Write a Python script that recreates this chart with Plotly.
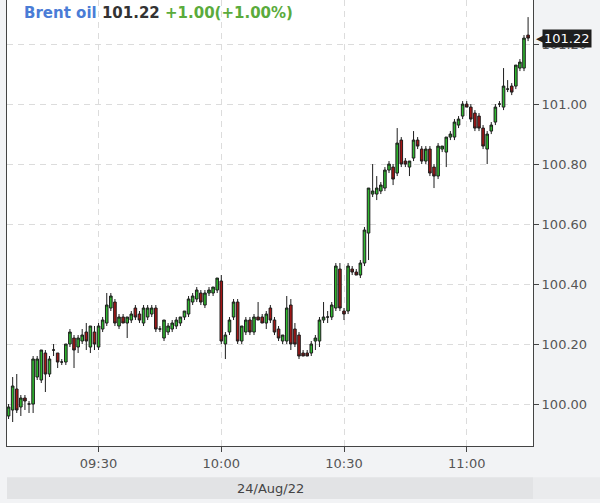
import pandas as pd
import plotly.graph_objects as go

# Brent oil, 1-minute candles, 24 Aug 2022 (09:08 - 11:15)
start_time = "2022-08-24 09:08"

opens = [
    99.96, 99.98, 100.05, 99.99, 100.02, 100.00, 100.00, 100.09, 100.08, 100.17,
    100.10, 100.18, 100.17, 100.14, 100.14, 100.20, 100.22, 100.19, 100.21, 100.24,
    100.19, 100.24, 100.19, 100.25, 100.27, 100.32, 100.34, 100.26, 100.29, 100.27,
    100.28, 100.32, 100.30, 100.27, 100.29, 100.30, 100.32, 100.25, 100.22, 100.24,
    100.25, 100.26, 100.27, 100.29, 100.30, 100.34, 100.35, 100.37, 100.33, 100.37,
    100.37, 100.38, 100.41, 100.20, 100.24, 100.29, 100.34, 100.21, 100.24, 100.28,
    100.24, 100.29, 100.29, 100.27, 100.32, 100.28, 100.25, 100.21, 100.21, 100.33,
    100.25, 100.23, 100.17, 100.17, 100.17, 100.21, 100.21, 100.28, 100.29, 100.29,
    100.32, 100.45, 100.31, 100.31, 100.45, 100.44, 100.43, 100.47, 100.57, 100.70,
    100.70, 100.71, 100.72, 100.78, 100.79, 100.77, 100.88, 100.81, 100.79, 100.82,
    100.88, 100.85, 100.81, 100.85, 100.79, 100.76, 100.85, 100.84, 100.89, 100.89,
    100.93, 100.96, 101.00, 100.99, 100.97, 100.96, 100.92, 100.85, 100.91, 100.94,
    101.00, 100.99, 101.05, 101.06, 101.06, 101.12, 101.12, 101.23,
]
highs = [
    100.00, 100.09, 100.10, 100.03, 100.03, 100.01, 100.16, 100.16, 100.18, 100.18,
    100.16, 100.20, 100.17, 100.15, 100.20, 100.25, 100.23, 100.23, 100.25, 100.27,
    100.26, 100.26, 100.27, 100.29, 100.37, 100.37, 100.35, 100.30, 100.30, 100.29,
    100.31, 100.33, 100.31, 100.33, 100.33, 100.33, 100.33, 100.26, 100.28, 100.27,
    100.28, 100.29, 100.29, 100.31, 100.36, 100.37, 100.39, 100.38, 100.38, 100.39,
    100.39, 100.42, 100.43, 100.24, 100.29, 100.35, 100.35, 100.26, 100.29, 100.29,
    100.30, 100.34, 100.30, 100.31, 100.33, 100.29, 100.26, 100.23, 100.36, 100.35,
    100.27, 100.24, 100.18, 100.18, 100.21, 100.23, 100.29, 100.34, 100.31, 100.34,
    100.47, 100.47, 100.32, 100.47, 100.46, 100.45, 100.48, 100.59, 100.72, 100.80,
    100.76, 100.74, 100.79, 100.81, 100.80, 100.92, 100.89, 100.82, 100.81, 100.91,
    100.89, 100.86, 100.86, 100.86, 100.80, 100.87, 100.86, 100.89, 100.91, 100.95,
    100.96, 101.01, 101.01, 101.00, 100.98, 100.97, 100.93, 100.91, 100.94, 101.00,
    101.01, 101.12, 101.08, 101.07, 101.13, 101.15, 101.23, 101.29,
]
lows = [
    99.95, 99.94, 99.97, 99.96, 99.98, 99.97, 99.97, 100.08, 100.07, 100.04,
    100.09, 100.16, 100.12, 100.13, 100.13, 100.19, 100.12, 100.17, 100.20, 100.18,
    100.17, 100.18, 100.18, 100.24, 100.26, 100.31, 100.26, 100.25, 100.27, 100.22,
    100.27, 100.28, 100.27, 100.26, 100.28, 100.29, 100.24, 100.24, 100.21, 100.23,
    100.24, 100.25, 100.26, 100.28, 100.29, 100.33, 100.34, 100.33, 100.32, 100.36,
    100.36, 100.37, 100.20, 100.15, 100.23, 100.28, 100.20, 100.20, 100.23, 100.23,
    100.23, 100.28, 100.27, 100.25, 100.27, 100.23, 100.21, 100.20, 100.20, 100.18,
    100.19, 100.15, 100.16, 100.16, 100.16, 100.18, 100.19, 100.27, 100.27, 100.28,
    100.31, 100.31, 100.28, 100.30, 100.43, 100.43, 100.42, 100.46, 100.48, 100.69,
    100.68, 100.70, 100.71, 100.77, 100.73, 100.76, 100.79, 100.79, 100.76, 100.81,
    100.85, 100.80, 100.80, 100.76, 100.72, 100.75, 100.84, 100.79, 100.88, 100.88,
    100.92, 100.95, 100.99, 100.94, 100.91, 100.91, 100.85, 100.80, 100.90, 100.93,
    100.99, 100.98, 101.04, 101.03, 101.05, 101.11, 101.11, 101.21,
]
closes = [
    99.99, 100.06, 99.98, 100.02, 100.01, 100.00, 100.15, 100.15, 100.18, 100.10,
    100.15, 100.18, 100.14, 100.14, 100.20, 100.24, 100.18, 100.22, 100.23, 100.21,
    100.26, 100.20, 100.26, 100.28, 100.33, 100.36, 100.27, 100.29, 100.27, 100.29,
    100.30, 100.29, 100.28, 100.32, 100.32, 100.32, 100.25, 100.25, 100.28, 100.26,
    100.27, 100.28, 100.29, 100.31, 100.35, 100.36, 100.38, 100.34, 100.37, 100.38,
    100.39, 100.42, 100.21, 100.23, 100.28, 100.34, 100.21, 100.26, 100.28, 100.24,
    100.29, 100.28, 100.27, 100.30, 100.28, 100.24, 100.22, 100.23, 100.32, 100.20,
    100.20, 100.16, 100.16, 100.16, 100.20, 100.22, 100.28, 100.29, 100.29, 100.33,
    100.46, 100.32, 100.30, 100.46, 100.44, 100.43, 100.47, 100.58, 100.72, 100.71,
    100.72, 100.73, 100.78, 100.80, 100.75, 100.87, 100.80, 100.80, 100.81, 100.88,
    100.86, 100.81, 100.85, 100.77, 100.76, 100.86, 100.86, 100.89, 100.90, 100.94,
    100.95, 101.00, 100.99, 100.95, 100.92, 100.92, 100.86, 100.90, 100.93, 100.99,
    101.00, 101.06, 101.05, 101.04, 101.13, 101.14, 101.22, 101.22,
]

name = "Brent oil"
last_price = "101.22"
change_text = "+1.00(+1.00%)"
session_date = "24/Aug/22"
y_ticks = [100.00, 100.20, 100.40, 100.60, 100.80, 101.00, 101.20]

times = pd.date_range(start_time, periods=len(closes), freq="1min")

fig = go.Figure()
fig.add_trace(go.Candlestick(
    x=times, open=opens, high=highs, low=lows, close=closes,
    increasing=dict(fillcolor="#2fb82f", line=dict(color="#1d1d1d", width=1)),
    decreasing=dict(fillcolor="#a41616", line=dict(color="#1d1d1d", width=1)),
    whiskerwidth=0, showlegend=False, hoverinfo="skip",
))

# price header inside the plot
fig.add_annotation(
    xref="paper", yref="paper", x=0.028, y=1, yshift=-2, xanchor="left", yanchor="top",
    showarrow=False, font=dict(family="DejaVu Sans", size=15),
    text=("<b><span style='color:#4a7cd6'>" + name + "</span> "
          "<span style='color:#333333'>" + last_price + "</span> "
          "<span style='color:#5aab3c'>" + change_text + "</span></b>"),
)

# last price tag on the right axis
fig.add_annotation(
    xref="paper", yref="y", x=1, y=closes[-1], xanchor="left", xshift=9,
    showarrow=False, text=last_price, bgcolor="#1e1e1e", borderpad=1,
    font=dict(family="DejaVu Sans", size=13, color="white"),
)
fig.add_annotation(
    xref="paper", yref="y", x=1, y=closes[-1], xanchor="left", xshift=1,
    showarrow=False, text="◀", font=dict(family="DejaVu Sans", size=11, color="#1e1e1e"),
)

# date band under the time axis
fig.add_shape(type="rect", xref="paper", yref="paper", x0=0, x1=1, y0=-0.07, y1=-0.119,
              fillcolor="#e2e3e5", line_width=0, layer="below")
fig.add_shape(type="rect", xref="paper", yref="paper", x0=1, x1=1.13, y0=-0.07, y1=-0.119,
              fillcolor="#eaebed", line_width=0, layer="below")
fig.add_annotation(
    xref="paper", yref="paper", x=0.5, y=-0.0945, yanchor="middle", showarrow=False,
    text=session_date, font=dict(family="DejaVu Sans", size=13, color="#444444"),
)

fig.update_layout(
    width=600, height=503,
    margin=dict(l=7, r=67, t=0, b=57),
    paper_bgcolor="#f2f3f5", plot_bgcolor="white",
    font=dict(family="DejaVu Sans", size=13, color="#555555"),
    showlegend=False, boxgap=0.1,
)
fig.update_xaxes(
    type="date", rangeslider_visible=False,
    range=[pd.Timestamp("2022-08-24 09:07:37"), pd.Timestamp("2022-08-24 11:16:12")],
    tickformat="%H:%M", dtick=30 * 60 * 1000, tick0="2022-08-24 09:30",
    showgrid=True, gridcolor="#dcdcdc", griddash="6px,5px", gridwidth=1,
    showline=True, linecolor="#444444", linewidth=1,
    ticks="outside", ticklen=5, tickcolor="#444444",
)
fig.update_yaxes(
    side="right", range=[99.86, 101.347],
    tickvals=y_ticks, tickformat=".2f",
    showgrid=True, gridcolor="#dcdcdc", griddash="6px,5px", gridwidth=1,
    showline=True, linecolor="#444444", linewidth=1, mirror=True,
    ticks="outside", ticklen=5, tickcolor="#444444",
    zeroline=False,
)

fig.write_html("out.html", config={"displayModeBar": False},
               post_script="document.body.style.margin='0px';")
